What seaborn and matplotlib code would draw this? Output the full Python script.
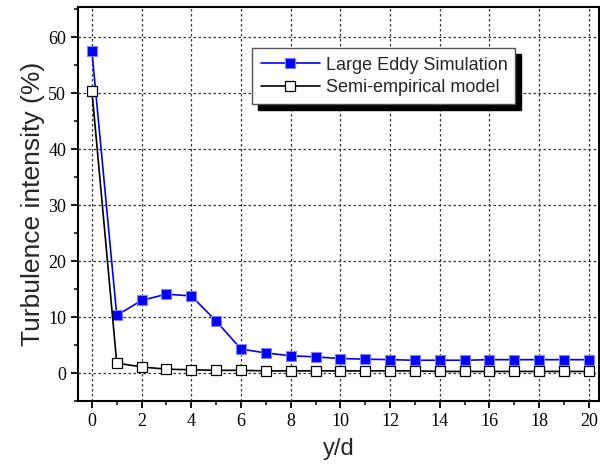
import numpy as np
import pandas as pd
import seaborn as sns
import matplotlib.pyplot as plt
from matplotlib.ticker import MultipleLocator

y_d = list(range(0, 21))
les = [57.5, 10.3, 13.0, 14.1, 13.8, 9.3, 4.3, 3.6, 3.1, 2.9, 2.6,
       2.5, 2.4, 2.3, 2.3, 2.3, 2.4, 2.4, 2.4, 2.4, 2.4]
semi = [50.4, 1.8, 1.1, 0.7, 0.6, 0.5, 0.5, 0.4, 0.4, 0.4, 0.4,
        0.4, 0.4, 0.4, 0.3, 0.3, 0.3, 0.3, 0.3, 0.3, 0.3]

df = pd.DataFrame({"y/d": y_d, "les": les, "semi": semi})

sns.set_style("ticks")
plt.rcParams["font.family"] = ["Liberation Sans", "DejaVu Sans"]

fig = plt.figure(figsize=(6, 4.73), dpi=100)
ax = fig.add_axes([0.13, 0.152, 0.868, 0.833])

sns.lineplot(data=df, x="y/d", y="les", ax=ax, color="#0000ff", lw=1.2,
             marker="s", markersize=7.5, markerfacecolor="#0000ff",
             markeredgecolor="#8080ff", markeredgewidth=0.8,
             label="Large Eddy Simulation")
sns.lineplot(data=df, x="y/d", y="semi", ax=ax, color="black", lw=1.2,
             marker="s", markersize=7.5, markerfacecolor="white",
             markeredgecolor="black", markeredgewidth=0.9,
             label="Semi-empirical model")

ax.set_xlim(-0.56, 20.4)
ax.set_ylim(-5, 65.4)
ax.xaxis.set_major_locator(MultipleLocator(2))
ax.xaxis.set_minor_locator(MultipleLocator(1))
ax.yaxis.set_major_locator(MultipleLocator(10))
ax.yaxis.set_minor_locator(MultipleLocator(5))
ax.grid(True, which="major", color="#333333", linestyle=(0, (2, 2)), lw=0.9)
ax.set_axisbelow(True)

ax.tick_params(which="major", direction="out", length=5, width=1.3,
               labelsize=13, colors="black")
ax.tick_params(which="minor", direction="out", length=3, width=1.3)
for lab in ax.get_xticklabels() + ax.get_yticklabels():
    lab.set_fontfamily("Liberation Serif")
for s in ax.spines.values():
    s.set_visible(True)
    s.set_linewidth(1.5)
    s.set_color("black")

ax.set_xlabel("y/d", fontsize=17, labelpad=6)
ax.set_ylabel("Turbulence intensity (%)", fontsize=19, labelpad=2)

leg = ax.legend(loc="upper left", bbox_to_anchor=(0.335, 0.895),
                fontsize=13, frameon=True, fancybox=False, handlelength=3.3,
                borderpad=0.45, labelspacing=0.3, handletextpad=0.3,
                borderaxespad=0,
                shadow={"color": "black", "alpha": 1, "ox": 4, "oy": -4})
leg.get_frame().set_edgecolor("#555555")
leg.get_frame().set_linewidth(1.0)
leg.get_frame().set_alpha(1)

fig.savefig("out.png", dpi=100)
